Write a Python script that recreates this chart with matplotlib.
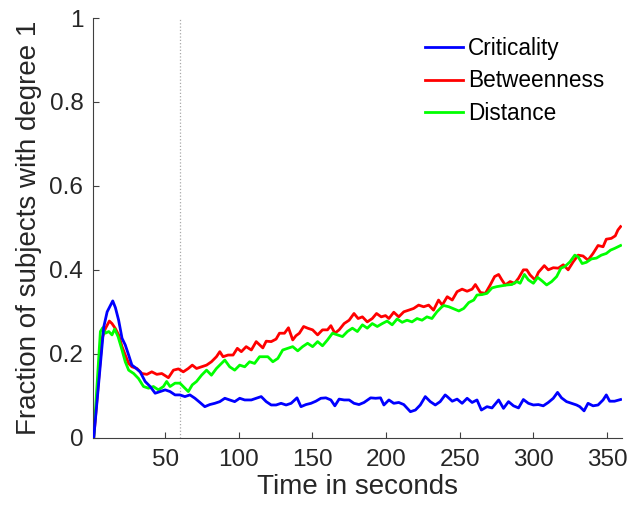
import matplotlib
matplotlib.use('Agg')
from matplotlib import pyplot as plt

# values
t_crit = [1.5, 8.3, 10.6, 14.4, 16.2, 18.4, 20.7, 22.9, 25.2, 27.4, 29.7, 33, 36.4, 39.8, 43.2,
          46.6, 50, 53.3, 56.7, 60, 63.4, 66.8, 70.2, 73.6, 76.9, 80.3, 83.7, 87.1, 90.5, 93.8,
          97.2, 100.6, 104, 108.5, 111.8, 115.2, 118.6, 122, 125.3, 128.7, 132.1, 135.5, 139.5,
          142.2, 145.6, 149, 152.3, 155.7, 159.1, 162.5, 165.2, 168.1, 171.5, 174.9, 178.2, 181.6,
          185, 189.5, 192.9, 196.2, 198.5, 201.9, 205.2, 208.6, 212, 216.5, 219.9, 223.2, 226.6,
          230, 233.4, 236.7, 240.1, 241.5, 244.9, 248.2, 251.6, 255, 258.4, 261.7, 264.7, 268.5,
          271.9, 276.4, 279.7, 283.1, 286.5, 289.9, 293.2, 296.6, 300, 303.4, 306.7, 310.1, 313.5,
          316.4, 319.1, 322.5, 325.9, 329.3, 331.5, 334.4, 337.1, 340.5, 343.9, 347.3, 349.5,
          351.8, 355.1, 359.2]
criticality = [0, 0.264, 0.30, 0.326, 0.31, 0.28, 0.237, 0.221, 0.197, 0.173, 0.167, 0.157, 0.134,
               0.122, 0.106, 0.11, 0.114, 0.11, 0.102, 0.102, 0.098, 0.102, 0.094, 0.084, 0.074,
               0.079, 0.082, 0.086, 0.094, 0.09, 0.086, 0.094, 0.09, 0.09, 0.094, 0.098, 0.086,
               0.078, 0.078, 0.082, 0.078, 0.082, 0.095, 0.074, 0.079, 0.082, 0.087, 0.094, 0.095,
               0.09, 0.076, 0.092, 0.09, 0.09, 0.082, 0.079, 0.084, 0.095, 0.094, 0.095, 0.078,
               0.09, 0.082, 0.084, 0.079, 0.062, 0.066, 0.078, 0.098, 0.086, 0.078, 0.086, 0.102,
               0.098, 0.087, 0.092, 0.082, 0.094, 0.084, 0.09, 0.066, 0.074, 0.071, 0.09, 0.07,
               0.086, 0.076, 0.071, 0.091, 0.082, 0.078, 0.079, 0.076, 0.084, 0.094, 0.108, 0.095,
               0.086, 0.082, 0.078, 0.074, 0.064, 0.082, 0.076, 0.078, 0.09, 0.102, 0.087, 0.087,
               0.091]

t_betw = [1.5, 7.2, 9.4, 12.1, 13.9, 16.2, 18.4, 20.7, 22.9, 25.2, 27.4, 30.8, 34.2, 37.6, 40.9,
          44.3, 47.7, 52.2, 55.6, 59, 62.3, 65.7, 68.4, 71.3, 74.7, 78.1, 81.4, 84.8, 87.1, 89.3,
          92.7, 96.1, 99, 101.7, 105, 108.5, 111.8, 116.3, 118.6, 122, 125.3, 127.6, 131, 133.7,
          136.6, 138.8, 141.1, 144, 146.7, 150.1, 153.5, 156.8, 160.2, 162.5, 165.2, 168.1,
          171.5, 174.9, 178.2, 181, 183.9, 187.2, 190.6, 193.5, 196.7, 199.6, 201.9, 205.2,
          208.6, 212, 215.4, 218.7, 222.1, 225.5, 228.9, 232.2, 235.6, 238.1, 241.5, 244.9,
          248.2, 251.6, 255, 258.4, 260.6, 264, 267.4, 270.7, 273.7, 276.4, 278.6, 280.9, 284.2,
          287.2, 289.9, 293.2, 295.5, 297.7, 301.1, 303.4, 307.4, 310.1, 313.5, 316.9, 320.3,
          323.6, 327, 330.4, 333.7, 337.1, 340.5, 343.9, 347.3, 349.5, 352.9, 355.6, 357.4, 359.2]
betweenness = [0, 0.237, 0.26, 0.278, 0.272, 0.26, 0.245, 0.217, 0.197, 0.177, 0.169, 0.165,
               0.153, 0.151, 0.157, 0.151, 0.153, 0.143, 0.161, 0.164, 0.157, 0.165, 0.173, 0.165,
               0.169, 0.173, 0.181, 0.193, 0.205, 0.193, 0.197, 0.197, 0.213, 0.205, 0.217, 0.209,
               0.229, 0.214, 0.23, 0.229, 0.235, 0.249, 0.249, 0.262, 0.233, 0.243, 0.249, 0.265,
               0.261, 0.257, 0.245, 0.257, 0.257, 0.267, 0.249, 0.257, 0.272, 0.28, 0.296, 0.284,
               0.288, 0.276, 0.284, 0.296, 0.288, 0.291, 0.284, 0.299, 0.288, 0.3, 0.304, 0.308,
               0.316, 0.312, 0.316, 0.304, 0.328, 0.316, 0.336, 0.328, 0.348, 0.354, 0.349, 0.354,
               0.365, 0.346, 0.344, 0.364, 0.384, 0.389, 0.376, 0.364, 0.372, 0.368, 0.38, 0.4,
               0.4, 0.388, 0.376, 0.394, 0.41, 0.4, 0.405, 0.404, 0.412, 0.4, 0.419, 0.435, 0.433,
               0.423, 0.439, 0.458, 0.455, 0.473, 0.475, 0.481, 0.495, 0.503]

t_dist = [1.5, 6, 7.6, 9.4, 11.7, 13.9, 15.7, 18, 20.7, 22.9, 25.2, 28.6, 31.9, 35.3, 38.7, 42,
          45.4, 48.8, 51, 53.3, 56.7, 60, 63.4, 65.7, 68.4, 71.3, 74.7, 78.1, 81.4, 84.8, 88.2,
          90.5, 93.8, 97.2, 100.6, 104, 107.3, 110.7, 114.1, 116.3, 119.7, 123.1, 126.5, 129.8,
          133.2, 136.6, 140, 143.3, 146.7, 150.1, 153.5, 156.8, 160.2, 163.6, 167, 170.4, 173.7,
          177.1, 180.5, 183.9, 187.2, 190.6, 194, 197.4, 200.7, 204.1, 207.5, 210.9, 214.2,
          217.6, 221, 224.4, 227.7, 231.1, 234.5, 237.9, 239.2, 242.6, 246, 249.4, 252.7, 256.1,
          259.5, 261.7, 265.1, 268.5, 271.9, 275.2, 278.6, 282, 285.4, 288.7, 291, 293.9, 296.6,
          300, 302.9, 306.1, 309, 312.4, 315.8, 318.7, 321.4, 324.8, 328.1, 330.4, 333.1, 336,
          339.4, 342.8, 346.1, 349.5, 352.4, 355.1, 359.2]
distance = [0, 0.253, 0.262, 0.249, 0.253, 0.245, 0.259, 0.241, 0.209, 0.181, 0.161, 0.153, 0.141,
            0.122, 0.118, 0.122, 0.114, 0.122, 0.134, 0.122, 0.13, 0.13, 0.118, 0.11, 0.126, 0.134,
            0.149, 0.161, 0.149, 0.165, 0.177, 0.185, 0.169, 0.161, 0.173, 0.169, 0.181, 0.177,
            0.193, 0.193, 0.193, 0.181, 0.189, 0.209, 0.213, 0.217, 0.207, 0.217, 0.225, 0.217,
            0.229, 0.219, 0.233, 0.249, 0.245, 0.241, 0.253, 0.261, 0.253, 0.269, 0.261, 0.272,
            0.265, 0.272, 0.278, 0.269, 0.283, 0.275, 0.28, 0.276, 0.284, 0.28, 0.288, 0.284, 0.3,
            0.312, 0.315, 0.312, 0.307, 0.302, 0.308, 0.322, 0.328, 0.34, 0.341, 0.344, 0.357,
            0.36, 0.362, 0.364, 0.365, 0.372, 0.368, 0.389, 0.376, 0.368, 0.382, 0.373, 0.364,
            0.372, 0.384, 0.404, 0.408, 0.419, 0.435, 0.431, 0.415, 0.418, 0.426, 0.428, 0.435,
            0.439, 0.447, 0.451, 0.458]

x_ticks = [50, 100, 150, 200, 250, 300, 350]
y_ticks = [0, 0.2, 0.4, 0.6, 0.8, 1]
y_ticklabels = ['0', '0.2', '0.4', '0.6', '0.8', '1']
marker_time = 60

plt.rcParams['font.family'] = ['Liberation Sans', 'DejaVu Sans']
txt = '#262626'

fig = plt.figure(figsize=(6.34, 5.19), dpi=100)
ax = fig.add_axes([0.1467, 0.1566, 0.834, 0.8087])

ax.axvline(marker_time, color='#a8a8a8', linestyle=':', linewidth=0.9, zorder=1)
ax.plot(t_crit, criticality, color=(0, 0, 1), linewidth=2, label='Criticality', zorder=3)
ax.plot(t_betw, betweenness, color=(1, 0, 0), linewidth=2, label='Betweenness', zorder=2)
ax.plot(t_dist, distance, color=(0, 1, 0), linewidth=2, label='Distance', zorder=2.5)

ax.set_xlim(1, 360)
ax.set_ylim(0, 1)
ax.set_xticks(x_ticks)
ax.set_yticks(y_ticks)
ax.set_yticklabels(y_ticklabels)
ax.tick_params(direction='in', length=4, width=0.8, colors='#404040', labelcolor=txt,
               labelsize=17.5)
ax.tick_params(axis='x', pad=8)
ax.tick_params(axis='y', pad=7)
for s in ['top', 'right']:
    ax.spines[s].set_visible(False)
for s in ['left', 'bottom']:
    ax.spines[s].set_color('#404040')
    ax.spines[s].set_linewidth(0.8)

ax.set_xlabel('Time in seconds', fontsize=20, color=txt, labelpad=2)
ax.set_ylabel('Fraction of subjects with degree 1', fontsize=20, color=txt, labelpad=5)

leg = ax.legend(loc='upper left', frameon=False, fontsize=16.3, handlelength=1.68,
                handletextpad=0.22, labelspacing=0.43, borderaxespad=0,
                bbox_to_anchor=(0.611, 0.977))
for line in leg.get_lines():
    line.set_linewidth(2)

plt.savefig('out.png', dpi=100)
